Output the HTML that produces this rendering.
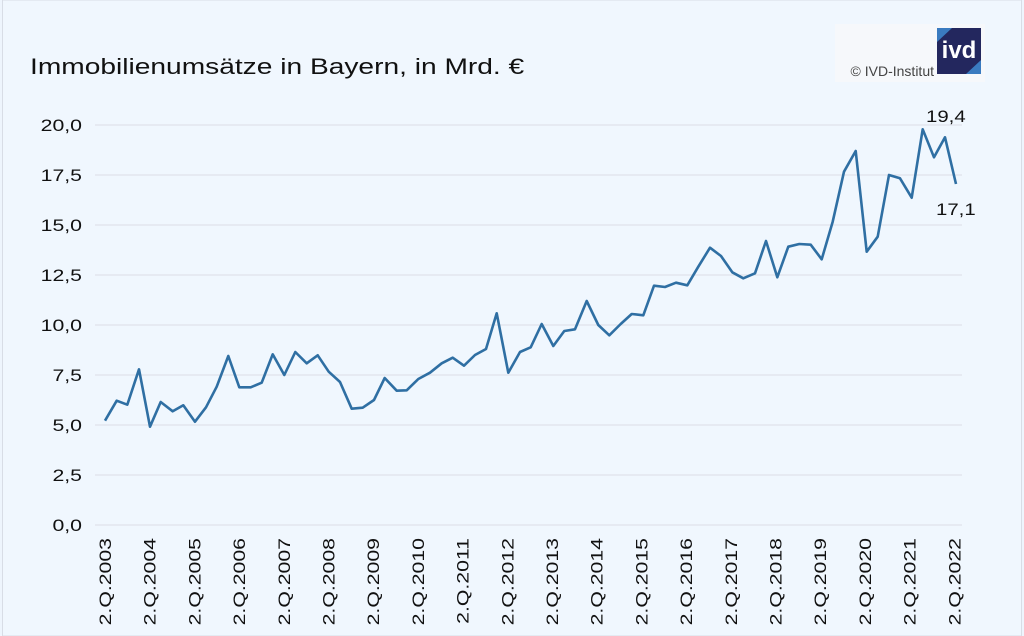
<!DOCTYPE html>
<html><head><meta charset="utf-8"><style>
html,body{margin:0;padding:0;background:#eef5fd;}
svg{display:block;font-family:"Liberation Sans",sans-serif;}
</style></head><body>
<svg width="1024" height="636" viewBox="0 0 1024 636">
<rect x="0" y="0" width="1024" height="636" fill="#eef5fd"/>
<rect x="2.5" y="0" width="1019" height="636" fill="#f0f7fe" stroke="#d8dde6"/>
<text transform="translate(30,74) scale(1.28,1)" font-size="22" fill="#111">Immobilienumsätze in Bayern, in Mrd. €</text>
<rect x="835" y="24" width="150" height="58" fill="#f6f8fb"/>
<rect x="937" y="28" width="44" height="46" fill="#23275e"/>
<path d="M937 28 L952 28 L937 42 Z" fill="#3a7bc0"/>
<path d="M981 74 L966 74 L981 60 Z" fill="#3a7bc0"/>
<text x="959" y="58" font-size="24" font-weight="bold" fill="#fff" text-anchor="middle">ivd</text>
<text x="934" y="76" font-size="14" fill="#444" text-anchor="end">© IVD-Institut</text>
<g stroke="#dfe3ea" stroke-width="1.2">
<line x1="95" x2="962" y1="125" y2="125"/><line x1="95" x2="962" y1="175" y2="175"/>
<line x1="95" x2="962" y1="225" y2="225"/><line x1="95" x2="962" y1="275" y2="275"/>
<line x1="95" x2="962" y1="325" y2="325"/><line x1="95" x2="962" y1="375" y2="375"/>
<line x1="95" x2="962" y1="425" y2="425"/><line x1="95" x2="962" y1="475" y2="475"/>
<line x1="95" x2="962" y1="525" y2="525"/>
</g>
<g font-size="17" fill="#111" text-anchor="end">
<text transform="translate(82,131) scale(1.25,1)">20,0</text>
<text transform="translate(82,181) scale(1.25,1)">17,5</text>
<text transform="translate(82,231) scale(1.25,1)">15,0</text>
<text transform="translate(82,281) scale(1.25,1)">12,5</text>
<text transform="translate(82,331) scale(1.25,1)">10,0</text>
<text transform="translate(82,381) scale(1.25,1)">7,5</text>
<text transform="translate(82,431) scale(1.25,1)">5,0</text>
<text transform="translate(82,481) scale(1.25,1)">2,5</text>
<text transform="translate(82,531) scale(1.25,1)">0,0</text>
</g>
<g font-size="17" fill="#111" text-anchor="end">
<text transform="translate(111,538) rotate(-90) scale(1.25,1)">2.Q.2003</text>
<text transform="translate(155.7,538) rotate(-90) scale(1.25,1)">2.Q.2004</text>
<text transform="translate(200.4,538) rotate(-90) scale(1.25,1)">2.Q.2005</text>
<text transform="translate(245.1,538) rotate(-90) scale(1.25,1)">2.Q.2006</text>
<text transform="translate(289.8,538) rotate(-90) scale(1.25,1)">2.Q.2007</text>
<text transform="translate(334.5,538) rotate(-90) scale(1.25,1)">2.Q.2008</text>
<text transform="translate(379.2,538) rotate(-90) scale(1.25,1)">2.Q.2009</text>
<text transform="translate(423.9,538) rotate(-90) scale(1.25,1)">2.Q.2010</text>
<text transform="translate(468.6,538) rotate(-90) scale(1.25,1)">2.Q.2011</text>
<text transform="translate(513.3,538) rotate(-90) scale(1.25,1)">2.Q.2012</text>
<text transform="translate(558,538) rotate(-90) scale(1.25,1)">2.Q.2013</text>
<text transform="translate(602.7,538) rotate(-90) scale(1.25,1)">2.Q.2014</text>
<text transform="translate(647.4,538) rotate(-90) scale(1.25,1)">2.Q.2015</text>
<text transform="translate(692.1,538) rotate(-90) scale(1.25,1)">2.Q.2016</text>
<text transform="translate(736.8,538) rotate(-90) scale(1.25,1)">2.Q.2017</text>
<text transform="translate(781.5,538) rotate(-90) scale(1.25,1)">2.Q.2018</text>
<text transform="translate(826.2,538) rotate(-90) scale(1.25,1)">2.Q.2019</text>
<text transform="translate(870.9,538) rotate(-90) scale(1.25,1)">2.Q.2020</text>
<text transform="translate(915.6,538) rotate(-90) scale(1.25,1)">2.Q.2021</text>
<text transform="translate(960.3,538) rotate(-90) scale(1.25,1)">2.Q.2022</text>
</g>
<polyline fill="none" stroke="#2f6fa3" stroke-width="2.6" stroke-linejoin="round" points="
105,420.7 116.7,400.7 127.3,404.7 139,369.3 150,426.7 160.7,402 172.7,411.3 183.3,405.3 195,421.7 206,407.3 216.7,386.7 228.3,356 239.3,387.3 250.7,387.3 261.7,382.7 272.7,354.3 284.3,375 295.3,352 306.7,363.3 317.7,355.3 328.7,371.7 340,382 351.7,408.7 362.7,407.7 374,400 384.7,378 396.7,390.7 406.7,390.3 418.3,379 430,372.7 441.7,363.3 452.7,357.7 464,365.7 475,355 486,349 496.7,313.3 508.3,372.7 520,352 530.7,347.3 541.7,324 553.3,346 564.3,331 575,329.3 586.7,301 598.3,325 609.3,335.3 620.7,324 631.7,314 643.3,315.3 654,285.7 665,287 676,282.7 687.3,285.3 698.3,266.7 710,247.7 721,256 732.3,272.3 743.3,278.3 755,273.3 766,241 777.3,277.3 788.3,246.7 799.3,244 810.7,244.7 821.7,259.3 832.7,221.7 844,171.7 855.7,151 866.7,251.7 877.7,236.7 889,175 900,178.3 911.7,197.7 922.7,129.3 934,157.3 945,137.3 956,184"/>
<text transform="translate(926,122) scale(1.2,1)" font-size="17" fill="#111">19,4</text>
<text transform="translate(936,215) scale(1.2,1)" font-size="17" fill="#111">17,1</text>
</svg>
</body></html>
